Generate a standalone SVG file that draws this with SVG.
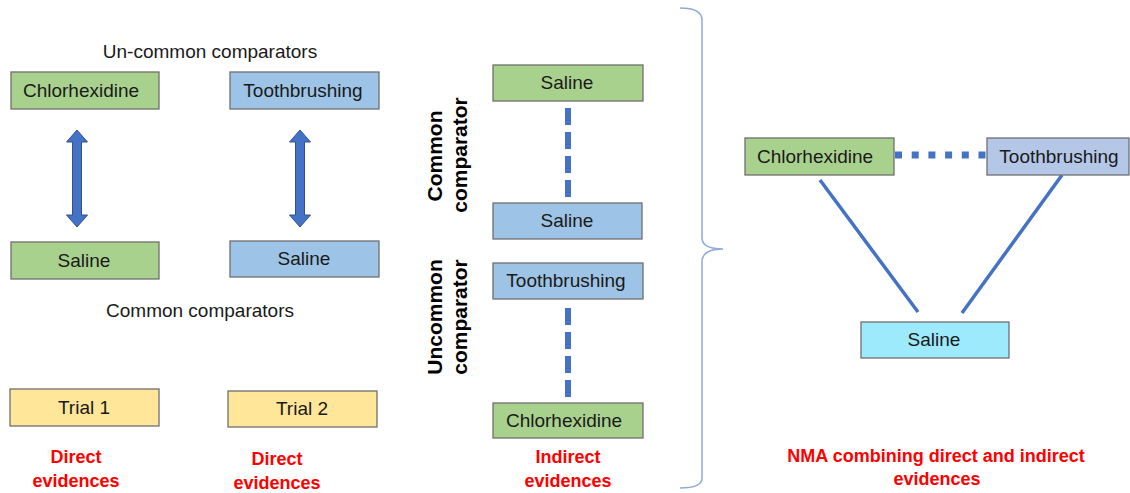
<svg xmlns="http://www.w3.org/2000/svg" width="1130" height="493" viewBox="0 0 1130 493">
<style>
.box{stroke:#6f6f6f;stroke-width:1.3}
.g{fill:#A9D18E}.b{fill:#9DC3E6}.l{fill:#B4C7E7}.c{fill:#9CEAFB}.y{fill:#FFE699}
.t{font-family:"Liberation Sans",Arial,sans-serif;font-size:19px;fill:#1a1a1a;text-anchor:middle}
.r{font-family:"Liberation Sans",Arial,sans-serif;font-size:18px;font-weight:bold;fill:#FF0000;text-anchor:middle}
.v{font-family:"Liberation Sans",Arial,sans-serif;font-size:21px;font-weight:bold;fill:#000;text-anchor:middle}
.arrow{fill:#4472C4;stroke:#2F528F;stroke-width:1}
.dash{stroke:#4472C4;stroke-width:6;stroke-dasharray:17 7;fill:none}
.dot{stroke:#4472C4;stroke-width:7;stroke-dasharray:7 9.7;fill:none}
.solid{stroke:#4472C4;stroke-width:3.5;fill:none}
.brace{stroke:#8FAADC;stroke-width:1.5;fill:none}
</style>
<rect width="1130" height="493" fill="#ffffff"/>
<g id="labels">
<text class="t" x="210" y="58">Un-common comparators</text>
<text class="t" x="200" y="317">Common comparators</text>
<text class="r" x="76" y="463">Direct</text>
<text class="r" x="76" y="487">evidences</text>
<text class="r" x="277" y="465">Direct</text>
<text class="r" x="277" y="489">evidences</text>
<text class="r" x="568" y="463">Indirect</text>
<text class="r" x="568" y="487">evidences</text>
<text class="r" x="936" y="462">NMA combining direct and indirect</text>
<text class="r" x="937" y="485">evidences</text>
<text class="v" transform="translate(442,156) rotate(-90)">Common</text>
<text class="v" transform="translate(467,155) rotate(-90)">comparator</text>
<text class="v" transform="translate(442,317) rotate(-90)">Uncommon</text>
<text class="v" transform="translate(467,317) rotate(-90)">comparator</text>
</g>
<g id="connectors">
<path class="arrow" d="M77,130 L87.5,142 L81.5,142 L81.5,215 L87.5,215 L77,227 L66.5,215 L72.5,215 L72.5,142 L66.5,142 Z"/>
<path class="arrow" d="M300,130 L310.5,142 L304.5,142 L304.5,215 L310.5,215 L300,227 L289.5,215 L295.5,215 L295.5,142 L289.5,142 Z"/>
<line class="dash" x1="568" y1="108" x2="568" y2="197"/>
<line class="dash" x1="568" y1="308" x2="568" y2="397"/>
<line class="dot" x1="895" y1="155" x2="987" y2="155"/>
<line class="solid" x1="820" y1="180" x2="918" y2="312"/>
<line class="solid" x1="1062" y1="175" x2="962" y2="313"/>
<path class="brace" d="M680,8 Q702,8 702,20 L702,238 Q702,249 723,249 Q702,249 702,262 L702,478 Q702,488 680,488"/>
</g>
<g id="n1"><rect class="box g" x="11" y="72" width="148" height="37"/><text class="t" x="81" y="97">Chlorhexidine</text></g>
<g id="n2"><rect class="box b" x="230" y="72" width="149" height="37"/><text class="t" x="303" y="97">Toothbrushing</text></g>
<g id="n3"><rect class="box g" x="11" y="242" width="148" height="37"/><text class="t" x="84" y="267">Saline</text></g>
<g id="n4"><rect class="box b" x="230" y="241" width="149" height="36"/><text class="t" x="304" y="265">Saline</text></g>
<g id="n5"><rect class="box y" x="10" y="389" width="149" height="37"/><text class="t" x="84" y="414">Trial 1</text></g>
<g id="n6"><rect class="box y" x="228" y="391" width="149" height="36"/><text class="t" x="302" y="415">Trial 2</text></g>
<g id="n7"><rect class="box g" x="493" y="65" width="150" height="36"/><text class="t" x="567" y="89">Saline</text></g>
<g id="n8"><rect class="box b" x="493" y="203" width="149" height="36"/><text class="t" x="567" y="227">Saline</text></g>
<g id="n9"><rect class="box b" x="493" y="263" width="150" height="36"/><text class="t" x="566" y="287">Toothbrushing</text></g>
<g id="n10"><rect class="box g" x="493" y="403" width="150" height="35"/><text class="t" x="564" y="427">Chlorhexidine</text></g>
<g id="n11"><rect class="box g" x="745" y="138" width="149" height="37"/><text class="t" x="815" y="163">Chlorhexidine</text></g>
<g id="n12"><rect class="box l" x="987" y="138" width="142" height="37"/><text class="t" x="1059" y="163">Toothbrushing</text></g>
<g id="n13"><rect class="box c" x="861" y="322" width="148" height="36"/><text class="t" x="934" y="346">Saline</text></g>
</svg>
